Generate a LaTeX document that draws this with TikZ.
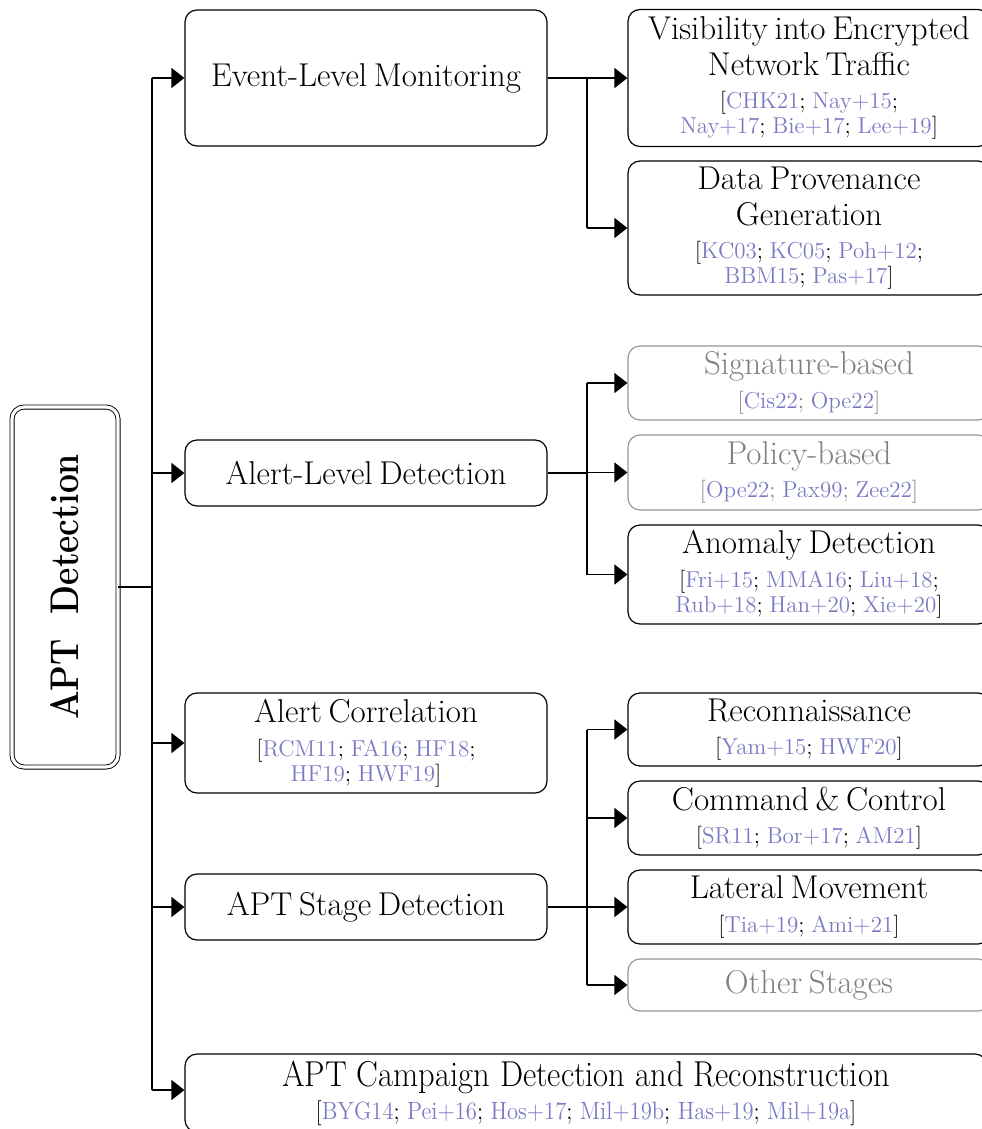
\documentclass[tikz,border=0pt]{standalone}
\usetikzlibrary{arrows.meta}
\definecolor{citeblue}{RGB}{122,122,196}
\definecolor{softgray}{RGB}{128,128,128}
\definecolor{edgegray}{RGB}{150,150,150}
\newcommand{\rf}[1]{\textcolor{citeblue}{#1}}
\newcommand{\mfs}{\fontsize{16.5}{18}\selectfont}
\newcommand{\cfs}{\fontsize{11.5}{12.5}\selectfont}
% a box text: title lines, then an optional block of references
\newcommand{\lab}[1]{{\mfs #1\par}}
\newcommand{\cites}[1]{\vspace{4.3pt}{\cfs #1\par}}
\begin{document}
\begin{tikzpicture}[x=0.5pt,y=-0.5pt,
  box/.style={draw, rounded corners=6pt, line width=0.6pt, align=center,
              text width=178pt, inner sep=0pt, minimum width=181pt, anchor=center},
  dimbox/.style={box, draw=edgegray, text=softgray},
  rootbox/.style={draw, double, double distance=1.6pt, line width=0.45pt,
                  rounded corners=6pt, minimum width=53pt, minimum height=180pt,
                  inner sep=0pt, anchor=center},
  link/.style={line width=0.75pt},
  arr/.style={link, -{Triangle[length=6.5pt,width=10pt]}}
]
\useasboundingbox (0,0) rectangle (981,1129);

% root
\node[rootbox] (root) at (65,587)
  {\rotatebox{90}{\scalebox{0.84}[1]{\fontsize{20}{22}\selectfont\bfseries APT\ \ Detection}}};

% first level
\node[box, minimum height=68pt] (ev) at (366,78) {\lab{Event-Level Monitoring}};
\node[box, minimum height=33pt] (al) at (366,473) {\lab{Alert-Level Detection}};
\node[box, minimum height=50pt] (ac) at (366,743)
  {\lab{Alert Correlation}\cites{[\rf{RCM11}; \rf{FA16}; \rf{HF18};\\\rf{HF19}; \rf{HWF19}]}};
\node[box, minimum height=33pt] (st) at (366,907) {\lab{APT Stage Detection}};
\node[draw, rounded corners=6pt, line width=0.6pt, inner sep=0pt, anchor=center,
      minimum width=401pt, minimum height=39pt] (camp) at (586,1093)
  {\scalebox{0.905}[1]{\begin{minipage}{420pt}\centering
     {\fontsize{18}{19}\selectfont APT Campaign Detection and Reconstruction\par}
     \vspace{2.5pt}
     {\fontsize{12.5}{13}\selectfont [\rf{BYG14}; \rf{Pei+16}; \rf{Hos+17}; \rf{Mil+19b}; \rf{Has+19}; \rf{Mil+19a}]\par}
   \end{minipage}}};

% second level
\node[box, minimum height=68.5pt] (vis) at (809,78)
  {\lab{Visibility into Encrypted\\Network Traffic}\cites{[\rf{CHK21}; \rf{Nay+15};\\\rf{Nay+17}; \rf{Bie+17}; \rf{Lee+19}]}};
\node[box, minimum height=67pt] (prov) at (809,228)
  {\lab{Data Provenance\\Generation}\cites{[\rf{KC03}; \rf{KC05}; \rf{Poh+12};\\\rf{BBM15}; \rf{Pas+17}]}};
\node[dimbox, minimum height=37pt] (sig) at (809,383)
  {\lab{Signature-based}\cites{[\rf{Cis22}; \rf{Ope22}]}};
\node[dimbox, minimum height=37.5pt] (pol) at (809,472.5)
  {\lab{Policy-based}\cites{[\rf{Ope22}; \rf{Pax99}; \rf{Zee22}]}};
\node[box, minimum height=49.5pt] (ano) at (809,574.5)
  {\lab{Anomaly Detection}\cites{[\rf{Fri+15}; \rf{MMA16}; \rf{Liu+18};\\\rf{Rub+18}; \rf{Han+20}; \rf{Xie+20}]}};
\node[box, minimum height=36.5pt] (rec) at (809,729.5)
  {\lab{Reconnaissance}\cites{[\rf{Yam+15}; \rf{HWF20}]}};
\node[box, minimum height=37pt] (cc) at (809,818)
  {\lab{Command \& Control}\cites{[\rf{SR11}; \rf{Bor+17}; \rf{AM21}]}};
\node[box, minimum height=37pt] (lat) at (809,907)
  {\lab{Lateral Movement}\cites{[\rf{Tia+19}; \rf{Ami+21}]}};
\node[dimbox, minimum height=26pt] (oth) at (809,985) {\lab{Other Stages}};

% trunk from the root
\coordinate (trunk) at (152,587);
\draw[link] (root.east) -- (trunk);
\draw[link] (trunk |- ev.west) -- (trunk |- 0,1090);
\foreach \n in {ev,al,ac,st} \draw[arr] (trunk |- \n.west) -- (\n.west);
\draw[arr] (trunk |- 0,1090) -- (camp.west |- 0,1090);

% event-level branch
\coordinate (evj) at (587,78);
\draw[link] (ev.east) -- (evj) -- (evj |- prov.west);
\foreach \n in {vis,prov} \draw[arr] (evj |- \n.west) -- (\n.west);

% alert-level branch
\coordinate (alj) at (587,473);
\draw[link] (al.east) -- (alj);
\draw[link] (alj |- sig.west) -- (alj |- ano.west);
\foreach \n in {sig,pol,ano} \draw[arr] (alj |- \n.west) -- (\n.west);

% stage branch
\coordinate (stj) at (587,907);
\draw[link] (st.east) -- (stj);
\draw[link] (stj |- rec.west) -- (stj |- oth.west);
\foreach \n in {rec,cc,lat,oth} \draw[arr] (stj |- \n.west) -- (\n.west);
\end{tikzpicture}
\end{document}
